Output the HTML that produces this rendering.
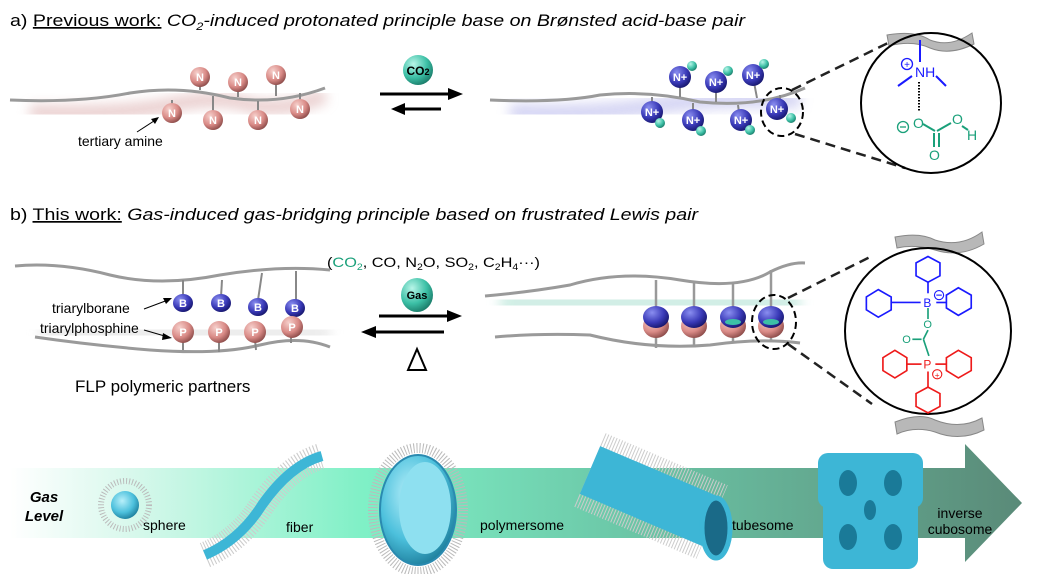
<!DOCTYPE html>
<html><head><meta charset="utf-8"><style>
html,body{margin:0;padding:0;background:#fff;}
svg{display:block;font-family:"Liberation Sans",sans-serif;}
</style></head><body>
<svg width="1038" height="574" viewBox="0 0 1038 574" xmlns="http://www.w3.org/2000/svg">
<defs>
<radialGradient id="pink" cx="0.35" cy="0.3" r="0.75"><stop offset="0" stop-color="#f6d0cc"/><stop offset="0.6" stop-color="#d98a86"/><stop offset="1" stop-color="#8a4a48"/></radialGradient>
<radialGradient id="navy" cx="0.35" cy="0.3" r="0.75"><stop offset="0" stop-color="#8a8ef0"/><stop offset="0.6" stop-color="#3a3ab8"/><stop offset="1" stop-color="#15156a"/></radialGradient>
<radialGradient id="teal" cx="0.35" cy="0.3" r="0.75"><stop offset="0" stop-color="#b8f5e8"/><stop offset="0.6" stop-color="#3cc0a6"/><stop offset="1" stop-color="#1a7a68"/></radialGradient>
<radialGradient id="cyan" cx="0.4" cy="0.35" r="0.7"><stop offset="0" stop-color="#b8f0fa"/><stop offset="0.6" stop-color="#4cc0dc"/><stop offset="1" stop-color="#1a7a98"/></radialGradient>
<linearGradient id="band" x1="0" x2="1" y1="0" y2="0"><stop offset="0" stop-color="#ffffff"/><stop offset="0.12" stop-color="#d8f8ec"/><stop offset="0.35" stop-color="#7ff0c6"/><stop offset="0.6" stop-color="#6cc8a8"/><stop offset="1" stop-color="#5a8a78"/></linearGradient>
<filter id="blur"><feGaussianBlur stdDeviation="6"/></filter>
</defs>

<text x="10" y="26" font-size="17" textLength="735" lengthAdjust="spacingAndGlyphs">a) <tspan text-decoration="underline">Previous work:</tspan> <tspan font-style="italic">CO<tspan font-size="11" dy="4">2</tspan><tspan dy="-4">-induced protonated principle base on Brønsted acid-base pair</tspan></tspan></text>
<text x="10" y="220" font-size="17" textLength="688" lengthAdjust="spacingAndGlyphs">b) <tspan text-decoration="underline">This work:</tspan> <tspan font-style="italic">Gas-induced gas-bridging principle based on frustrated Lewis pair</tspan></text>

<path d="M30 112 Q120 115 170 105 Q220 95 250 105 Q290 112 325 95" stroke="#e0b8b8" stroke-width="14" fill="none" filter="url(#blur)" opacity="0.7"/>
<path d="M10 100 Q80 103 130 93 Q180 85 230 98 Q280 105 325 88" stroke="#9a9a9a" stroke-width="3" fill="none"/>
<g stroke="#888" stroke-width="2">
<line x1="200" y1="77" x2="200" y2="90"/><line x1="238" y1="82" x2="238" y2="97"/><line x1="276" y1="75" x2="276" y2="96"/>
<line x1="172" y1="100" x2="172" y2="113"/><line x1="213" y1="96" x2="213" y2="120"/><line x1="258" y1="101" x2="258" y2="120"/><line x1="300" y1="93" x2="300" y2="109"/>
</g>
<g font-weight="bold" font-size="11" fill="#fff" text-anchor="middle">
<circle cx="200" cy="77" r="10" fill="url(#pink)"/><text x="200" y="81">N</text>
<circle cx="238" cy="82" r="10" fill="url(#pink)"/><text x="238" y="86">N</text>
<circle cx="276" cy="75" r="10" fill="url(#pink)"/><text x="276" y="79">N</text>
<circle cx="172" cy="113" r="10" fill="url(#pink)"/><text x="172" y="117">N</text>
<circle cx="213" cy="120" r="10" fill="url(#pink)"/><text x="213" y="124">N</text>
<circle cx="258" cy="120" r="10" fill="url(#pink)"/><text x="258" y="124">N</text>
<circle cx="300" cy="109" r="10" fill="url(#pink)"/><text x="300" y="113">N</text>
</g>
<line x1="137" y1="132" x2="157" y2="119" stroke="#000" stroke-width="1"/><path d="M159 117 L151 119 L155 124Z"/>
<text x="78" y="146" font-size="14">tertiary amine</text>

<circle cx="418" cy="70" r="15" fill="url(#teal)"/>
<text x="418" y="75" font-size="12" font-weight="bold" text-anchor="middle">CO<tspan font-size="9">2</tspan></text>
<line x1="380" y1="94" x2="452" y2="94" stroke="#000" stroke-width="3"/><path d="M463 94 L448 88 L448 100Z"/>
<line x1="402" y1="109" x2="441" y2="109" stroke="#000" stroke-width="3"/><path d="M391 109 L405 103 L405 115Z"/>

<path d="M510 112 Q600 115 660 105 Q720 98 800 100" stroke="#c8c8f0" stroke-width="16" fill="none" filter="url(#blur)" opacity="0.8"/>
<path d="M490 100 Q560 103 600 95 Q650 90 700 102 Q760 108 805 88" stroke="#9a9a9a" stroke-width="3" fill="none"/>
<g stroke="#888" stroke-width="2">
<line x1="680" y1="78" x2="680" y2="97"/><line x1="716" y1="84" x2="716" y2="102"/><line x1="753" y1="77" x2="757" y2="98"/>
<line x1="652" y1="97" x2="652" y2="112"/><line x1="693" y1="103" x2="693" y2="120"/><line x1="738" y1="105" x2="740" y2="120"/><line x1="780" y1="95" x2="780" y2="108"/>
</g>
<g font-weight="bold" font-size="11" fill="#fff" text-anchor="middle">
<circle cx="680" cy="77" r="11" fill="url(#navy)"/><text x="680" y="81">N+</text><circle cx="692" cy="66" r="5" fill="url(#teal)"/>
<circle cx="716" cy="82" r="11" fill="url(#navy)"/><text x="716" y="86">N+</text><circle cx="728" cy="71" r="5" fill="url(#teal)"/>
<circle cx="753" cy="75" r="11" fill="url(#navy)"/><text x="753" y="79">N+</text><circle cx="764" cy="64" r="5" fill="url(#teal)"/>
<circle cx="652" cy="112" r="11" fill="url(#navy)"/><text x="652" y="116">N+</text><circle cx="660" cy="123" r="5" fill="url(#teal)"/>
<circle cx="693" cy="120" r="11" fill="url(#navy)"/><text x="693" y="124">N+</text><circle cx="701" cy="131" r="5" fill="url(#teal)"/>
<circle cx="741" cy="120" r="11" fill="url(#navy)"/><text x="741" y="124">N+</text><circle cx="750" cy="130" r="5" fill="url(#teal)"/>
<circle cx="777" cy="109" r="11" fill="url(#navy)"/><text x="777" y="113">N+</text><circle cx="791" cy="118" r="5" fill="url(#teal)"/>
</g>
<ellipse cx="782" cy="112" rx="21" ry="24" fill="none" stroke="#000" stroke-width="2" stroke-dasharray="7,4"/>
<line x1="792" y1="90" x2="890" y2="42" stroke="#222" stroke-width="2.5" stroke-dasharray="10,6"/>
<line x1="795" y1="134" x2="905" y2="168" stroke="#222" stroke-width="2.5" stroke-dasharray="10,6"/>

<path d="M887 35 Q915 30 930 40 Q950 48 972 33 L974 44 Q950 56 930 48 Q912 40 889 46Z" fill="#b8b8b8" stroke="#888" stroke-width="1"/>
<circle cx="931" cy="103" r="70" fill="none" stroke="#000" stroke-width="2"/>
<g stroke="#1a1aff" stroke-width="2">
<line x1="920" y1="40" x2="920" y2="62"/><line x1="912" y1="76" x2="898" y2="86"/><line x1="936" y1="76" x2="946" y2="86"/>
</g>
<text x="915" y="77" font-size="14" fill="#1a1aff">NH</text>
<circle cx="907" cy="64" r="5.5" fill="none" stroke="#1a1aff" stroke-width="1.3"/><text x="907" y="68" font-size="10" fill="#1a1aff" text-anchor="middle">+</text>
<line x1="919" y1="82" x2="919" y2="112" stroke="#000" stroke-width="2" stroke-dasharray="1.5,1.5"/>
<g fill="#1aa07a" font-size="14">
<text x="913" y="128">O</text><text x="952" y="124">O</text><text x="967" y="140">H</text><text x="929" y="160">O</text>
<circle cx="903" cy="127" r="5.5" fill="none" stroke="#1aa07a" stroke-width="1.3"/><line x1="900" y1="127" x2="906" y2="127" stroke="#1aa07a" stroke-width="1.3"/>
</g>
<g stroke="#1aa07a" stroke-width="2"><line x1="923" y1="124" x2="935" y2="131"/><line x1="937" y1="131" x2="951" y2="123"/><line x1="962" y1="126" x2="968" y2="130"/><line x1="934" y1="133" x2="934" y2="147"/><line x1="939" y1="133" x2="939" y2="147"/></g>

<path d="M40 330 Q150 340 330 330" stroke="#ddd" stroke-width="70" fill="none" filter="url(#blur)" opacity="0.5"/>
<path d="M15 266 Q60 262 110 275 Q160 287 220 275 Q280 265 330 270" stroke="#9a9a9a" stroke-width="3" fill="none"/>
<path d="M35 337 Q90 345 150 350 Q220 355 260 345 Q300 335 330 347" stroke="#9a9a9a" stroke-width="3" fill="none"/>
<g stroke="#888" stroke-width="2">
<line x1="183" y1="280" x2="183" y2="297"/><line x1="222" y1="280" x2="221" y2="297"/><line x1="262" y1="273" x2="258" y2="300"/><line x1="296" y1="271" x2="296" y2="302"/>
<line x1="183" y1="340" x2="183" y2="350"/><line x1="219" y1="340" x2="219" y2="352"/><line x1="255" y1="340" x2="256" y2="350"/><line x1="291" y1="335" x2="291" y2="343"/>
</g>
<g font-weight="bold" font-size="11" fill="#fff" text-anchor="middle">
<ellipse cx="183" cy="303" rx="10" ry="9" fill="url(#navy)"/><text x="183" y="307">B</text>
<ellipse cx="221" cy="303" rx="10" ry="9" fill="url(#navy)"/><text x="221" y="307">B</text>
<ellipse cx="258" cy="307" rx="10" ry="9" fill="url(#navy)"/><text x="258" y="311">B</text>
<ellipse cx="295" cy="308" rx="10" ry="9" fill="url(#navy)"/><text x="295" y="312">B</text>
<ellipse cx="183" cy="332" rx="11" ry="11" fill="url(#pink)"/><text x="183" y="336">P</text>
<ellipse cx="219" cy="332" rx="11" ry="11" fill="url(#pink)"/><text x="219" y="336">P</text>
<ellipse cx="255" cy="332" rx="11" ry="11" fill="url(#pink)"/><text x="255" y="336">P</text>
<ellipse cx="292" cy="327" rx="11" ry="11" fill="url(#pink)"/><text x="292" y="331">P</text>
</g>
<text x="52" y="313" font-size="14">triarylborane</text>
<text x="40" y="333" font-size="14">triarylphosphine</text>
<line x1="144" y1="309" x2="168" y2="300" stroke="#000"/><path d="M172 298 L163 298 L166 304Z"/>
<line x1="144" y1="330" x2="168" y2="337" stroke="#000"/><path d="M172 338 L163 333 L162 340Z"/>
<text x="75" y="392" font-size="17">FLP polymeric partners</text>

<text x="327" y="267" font-size="14" textLength="213" lengthAdjust="spacingAndGlyphs">(<tspan fill="#1aa07a">CO<tspan font-size="9" dy="3">2</tspan></tspan><tspan dy="-3">, CO, N</tspan><tspan font-size="9" dy="3">2</tspan><tspan dy="-3">O, SO</tspan><tspan font-size="9" dy="3">2</tspan><tspan dy="-3">, C</tspan><tspan font-size="9" dy="3">2</tspan><tspan dy="-3">H</tspan><tspan font-size="9" dy="3">4</tspan><tspan dy="-3">···)</tspan></text>
<ellipse cx="417" cy="295" rx="16" ry="17" fill="url(#teal)"/>
<text x="417" y="299" font-size="11" font-weight="bold" text-anchor="middle">Gas</text>
<line x1="379" y1="316" x2="450" y2="316" stroke="#000" stroke-width="3"/><path d="M462 316 L447 310 L447 322Z"/>
<line x1="373" y1="332" x2="444" y2="332" stroke="#000" stroke-width="3"/><path d="M361 332 L376 326 L376 338Z"/>
<path d="M408 370 L417 349 L426 370Z" fill="none" stroke="#000" stroke-width="2"/>

<path d="M500 300 Q650 310 800 300" stroke="#bfe8dc" stroke-width="60" fill="none" filter="url(#blur)" opacity="0.7"/>
<path d="M485 296 Q530 292 570 285 Q620 270 680 280 Q740 290 770 272 Q790 262 805 263" stroke="#9a9a9a" stroke-width="3" fill="none"/>
<path d="M495 337 Q540 333 590 335 Q650 350 710 345 Q760 338 800 343" stroke="#9a9a9a" stroke-width="3" fill="none"/>
<g stroke="#999" stroke-width="2.5">
<line x1="656" y1="280" x2="656" y2="348"/><line x1="694" y1="282" x2="694" y2="347"/><line x1="733" y1="282" x2="733" y2="343"/><line x1="771" y1="270" x2="771" y2="340"/>
</g>
<g>
<ellipse cx="656" cy="326" rx="13" ry="12" fill="url(#pink)"/><ellipse cx="656" cy="317" rx="13" ry="11" fill="url(#navy)"/>
<ellipse cx="694" cy="326" rx="13" ry="12" fill="url(#pink)"/><ellipse cx="694" cy="317" rx="13" ry="11" fill="url(#navy)"/>
<ellipse cx="733" cy="326" rx="13" ry="12" fill="url(#pink)"/><ellipse cx="733" cy="317" rx="13" ry="11" fill="url(#navy)"/><ellipse cx="733" cy="322" rx="8" ry="3" fill="#3cc0a6"/>
<ellipse cx="771" cy="326" rx="13" ry="12" fill="url(#pink)"/><ellipse cx="771" cy="317" rx="13" ry="11" fill="url(#navy)"/><ellipse cx="771" cy="322" rx="8" ry="3" fill="#3cc0a6"/>
</g>
<ellipse cx="774" cy="322" rx="22" ry="27" fill="none" stroke="#000" stroke-width="2" stroke-dasharray="7,4"/>
<line x1="788" y1="298" x2="872" y2="256" stroke="#222" stroke-width="2.5" stroke-dasharray="10,6"/>
<line x1="788" y1="344" x2="872" y2="404" stroke="#222" stroke-width="2.5" stroke-dasharray="10,6"/>

<path d="M895 237 Q920 232 935 240 Q960 248 982 232 L984 244 Q960 258 935 250 Q915 244 897 248Z" fill="#b8b8b8" stroke="#888"/>
<path d="M895 422 Q920 412 935 420 Q960 430 982 418 L984 430 Q960 442 935 432 Q915 426 897 434Z" fill="#b8b8b8" stroke="#888"/>
<circle cx="928" cy="331" r="83" fill="none" stroke="#000" stroke-width="2"/>
<g transform="translate(928,331) scale(0.92) translate(-935,-331)">
<g fill="none" stroke-width="1.8">
<g stroke="#1a1aff">
<polygon points="935,250 948,257 948,271 935,278 922,271 922,257"/>
<line x1="935" y1="278" x2="935" y2="290"/>
<polygon points="870,298 883,290 897,298 897,312 883,320 870,312" transform="translate(-2,-4)"/>
<line x1="895" y1="300" x2="927" y2="300"/>
<polygon points="955,296 968,288 982,296 982,310 968,318 955,310" transform="translate(0,-4)"/>
<line x1="944" y1="300" x2="955" y2="300"/>
</g>
<line x1="935" y1="306" x2="935" y2="318" stroke="#1aa07a"/>
<line x1="935" y1="330" x2="930" y2="340" stroke="#1aa07a"/>
<line x1="930" y1="340" x2="936" y2="358" stroke="#1aa07a"/>
<line x1="918" y1="340" x2="928" y2="340" stroke="#1aa07a"/>
<g stroke="#ee1a1a">
<polygon points="886,360 899,352 912,360 912,374 899,382 886,374"/>
<line x1="912" y1="367" x2="928" y2="367"/>
<polygon points="955,360 968,352 982,360 982,374 968,382 955,374"/>
<line x1="943" y1="367" x2="955" y2="367"/>
<line x1="935" y1="375" x2="935" y2="392"/>
<polygon points="935,392 948,399 948,413 935,420 922,413 922,399"/>
</g>
</g>
<text x="930" y="305" font-size="13" fill="#1a1aff">B</text>
<circle cx="947" cy="292" r="5" fill="none" stroke="#1a1aff" stroke-width="1.2"/><line x1="944" y1="292" x2="950" y2="292" stroke="#1a1aff" stroke-width="1.2"/>
<text x="930" y="328" font-size="12" fill="#1aa07a">O</text>
<text x="907" y="344" font-size="12" fill="#1aa07a">O</text>
<text x="930" y="372" font-size="13" fill="#ee1a1a">P</text>
<circle cx="945" cy="378" r="5" fill="none" stroke="#ee1a1a" stroke-width="1.2"/><text x="945" y="382" font-size="9" fill="#ee1a1a" text-anchor="middle">+</text>
</g>

<path d="M10 468 L965 468 L965 444 L1022 503 L965 562 L965 538 L10 538Z" fill="url(#band)"/>
<text x="44" y="502" font-size="15" font-weight="bold" font-style="italic" text-anchor="middle">Gas</text>
<text x="44" y="521" font-size="15" font-weight="bold" font-style="italic" text-anchor="middle">Level</text>
<circle cx="125" cy="505" r="24" fill="none" stroke="#bbb" stroke-width="6" stroke-dasharray="1,2"/>
<circle cx="125" cy="505" r="14" fill="url(#cyan)"/>
<text x="143" y="530" font-size="14">sphere</text>
<path d="M205 555 Q240 540 262 505 Q290 465 322 456" stroke="#ccc" stroke-width="26" fill="none" stroke-dasharray="1,2"/>
<path d="M205 555 Q240 540 262 505 Q290 465 322 456" stroke="#3db6d6" stroke-width="10" fill="none"/>
<text x="286" y="532" font-size="14">fiber</text>
<ellipse cx="418" cy="510" rx="45" ry="62" fill="none" stroke="#bbb" stroke-width="10" stroke-dasharray="1,2"/>
<ellipse cx="418" cy="510" rx="38" ry="55" fill="url(#cyan)" stroke="#2a8ab0" stroke-width="2"/>
<ellipse cx="425" cy="508" rx="26" ry="46" fill="#8ee0f0"/>
<text x="480" y="530" font-size="14">polymersome</text>
<path d="M590 470 L712 522" stroke="#ccc" stroke-width="80" stroke-dasharray="1,2"/>
<path d="M590 470 L712 522" stroke="#3db6d6" stroke-width="52"/>
<ellipse cx="716" cy="528" rx="14" ry="30" fill="#1a6a88" stroke="#3db6d6" stroke-width="5"/>
<text x="732" y="530" font-size="14">tubesome</text>
<rect x="823" y="484" width="95" height="85" rx="10" fill="#3db6d6"/>
<rect x="818" y="453" width="105" height="55" rx="10" fill="#3db6d6"/>
<g fill="#1a7a98"><ellipse cx="848" cy="483" rx="9" ry="13"/><ellipse cx="893" cy="483" rx="9" ry="13"/><ellipse cx="848" cy="537" rx="9" ry="13"/><ellipse cx="893" cy="537" rx="9" ry="13"/><ellipse cx="870" cy="510" rx="6" ry="10"/></g>
<text x="960" y="518" font-size="14" text-anchor="middle">inverse</text>
<text x="960" y="534" font-size="14" text-anchor="middle">cubosome</text>
</svg>
</body></html>
